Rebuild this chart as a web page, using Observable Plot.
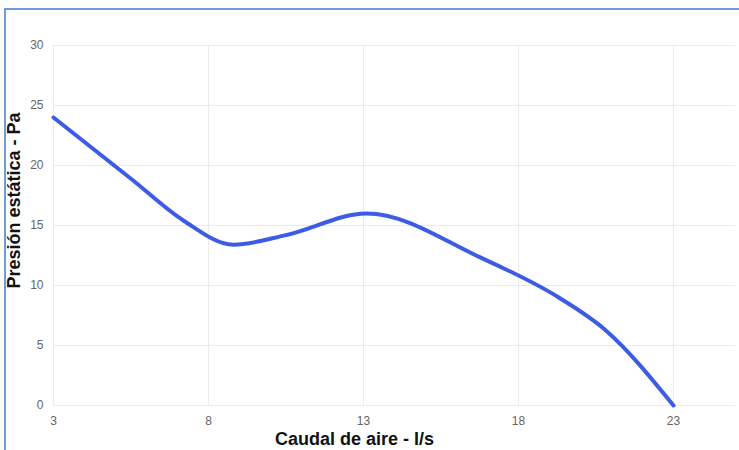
<!DOCTYPE html>
<html><head><meta charset="utf-8">
<script src="https://cdn.jsdelivr.net/npm/d3@7"></script>
<script src="https://cdn.jsdelivr.net/npm/@observablehq/plot@0.6"></script>
<style>
body{margin:0;background:#fff;overflow:hidden}
#wrap{position:relative;width:739px;height:450px;overflow:hidden}
#frame{position:absolute;left:4px;top:8px;width:770px;height:480px;border:2px solid #6f9bd6;box-sizing:border-box;pointer-events:none}
</style></head><body><div id="wrap"></div>
<script>
// Data
const caudal = [3, 5.5, 7.2, 8.8, 10.5, 13.1, 16.8, 19.3, 20.8, 23];
const presion = [24, 18.9, 15.4, 13.4, 14.2, 16.0, 12.3, 9.0, 6.3, 0];
const xTicks = [3, 8, 13, 18, 23];
const yTicks = [0, 5, 10, 15, 20, 25, 30];
const xTitle = "Caudal de aire - l/s";
const yTitle = "Presión estática - Pa";

const data = caudal.map((x, i) => ({x, y: presion[i]}));
const tickFont = "'Liberation Sans Narrow', 'Arial Narrow', 'Liberation Sans', sans-serif";
const titleFont = "'Liberation Sans', Arial, sans-serif";

const chart = Plot.plot({
  width: 739, height: 450,
  marginLeft: 53, marginRight: 4, marginTop: 45, marginBottom: 45,
  style: {background: "transparent", fontFamily: tickFont},
  x: {domain: [3, 25]},
  y: {domain: [0, 30]},
  marks: [
    Plot.gridX(xTicks, {stroke: "#ebebeb", strokeOpacity: 1}),
    Plot.gridY(yTicks, {stroke: "#ebebeb", strokeOpacity: 1}),
    Plot.axisX(xTicks, {tickSize: 0, tickPadding: 11, fontSize: 12, fill: "#646464", label: null, fontFamily: tickFont}),
    Plot.axisY(yTicks, {tickSize: 0, tickPadding: 10, fontSize: 12, fill: "#646464", label: null, fontFamily: tickFont}),
    Plot.line(data, {x: "x", y: "y", curve: "monotone-x", stroke: "#3d5ce6", strokeWidth: 4}),
    Plot.text([xTitle], {text: d => d, frameAnchor: "bottom", textAnchor: "middle", dx: -40, dy: 39, fontSize: 18, fontWeight: "bold", fill: "#111", fontFamily: titleFont}),
    Plot.text([yTitle], {text: d => d, frameAnchor: "left", textAnchor: "middle", lineAnchor: "middle", rotate: -90, dx: -39, dy: -25, fontSize: 18, fontWeight: "bold", fill: "#111", fontFamily: titleFont})
  ]
});
const wrap = document.getElementById("wrap");
wrap.appendChild(chart);
const fr = document.createElement("div");
fr.id = "frame";
wrap.appendChild(fr);
</script>
</body></html>
